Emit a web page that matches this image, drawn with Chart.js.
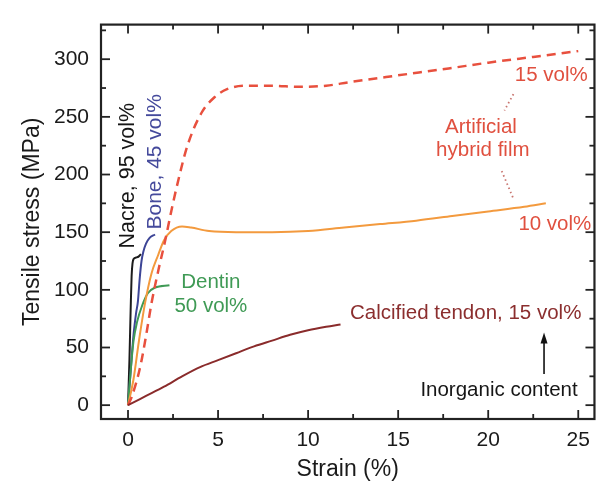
<!DOCTYPE html>
<html><head><meta charset="utf-8">
<script src="https://cdn.jsdelivr.net/npm/chart.js@4"></script>
<style>html,body{margin:0;padding:0;background:#fff}#wrap{width:599px;height:485px}</style>
</head><body><div id="wrap"><canvas id="c"></canvas></div>
<script>
// ---- tick labels ----
const xTicks = [0, 5, 10, 15, 20, 25];
const yTicks = [0, 50, 100, 150, 200, 250, 300];

// ---- series (strain %, stress MPa) ----
const nacreX = [0, 0.08, 0.15, 0.2, 0.25, 0.32, 0.45, 0.6, 0.72];
const nacreY = [0, 40, 85, 112, 123, 127, 128, 129, 131];

const boneX = [0, 0.15, 0.3, 0.45, 0.55, 0.65, 0.75, 0.85, 1.0, 1.2, 1.5];
const boneY = [0, 30, 60, 80, 90, 110, 125, 133, 140, 145, 148];

const dentinX = [0, 0.15, 0.3, 0.5, 0.8, 1.1, 1.5, 2.3];
const dentinY = [0, 30, 55, 72, 87, 97, 102, 104];

const film10X = [0, 0.3, 0.6, 0.94, 1.3, 1.67, 2.0, 2.4, 3.0, 3.5, 4.5, 6, 8, 10, 12, 14, 16, 18, 20, 22, 23.2];
const film10Y = [0, 22, 55, 88, 114, 130, 143, 151, 155, 154, 151, 150, 150, 151, 154, 157, 160, 164, 168, 172, 175];

const film15X = [0, 0.2, 0.66, 1.0, 1.3, 1.7, 2.04, 2.4, 2.7, 3.3, 4.1, 4.8, 5.5, 6.5, 8, 9.5, 11, 12.25, 15, 17.8, 20, 22.5, 25];
const film15Y = [0, 7, 32, 60, 88, 118, 141, 168, 189, 225, 254, 267, 274, 277, 277, 276, 277, 280, 286, 292, 297, 302, 307];

const tendonX = [0, 1, 2, 3, 4, 5, 6, 7, 8, 9, 10, 11, 11.8];
const tendonY = [0, 8, 16, 25, 33, 39, 45, 51, 56, 61, 65, 68, 70];

const pts = (xs, ys) => xs.map((v, i) => ({x: v, y: ys[i]}));
const FONT = "'Liberation Sans', Arial, Helvetica, sans-serif";

function ds(label, xs, ys, color, width, dash) {
  return {label, data: pts(xs, ys), borderColor: color, backgroundColor: color,
    borderWidth: width, borderDash: dash || [], pointRadius: 0, fill: false,
    cubicInterpolationMode: 'monotone'};
}

const annotations = [
  {text: 'Nacre, 95 vol%', x: 0.0, y: 199, color: '#161616', rot: true, size: 21.5},
  {text: 'Bone, 45 vol%', x: 1.5, y: 211, color: '#454a9c', rot: true, size: 21},
  {text: 'Dentin', x: 4.6, y: 106.5, color: '#3f9a55'},
  {text: '50 vol%', x: 4.6, y: 85.5, color: '#3f9a55'},
  {text: 'Calcified tendon, 15 vol%', x: 18.75, y: 79.8, color: '#8b2e2e'},
  {text: 'Inorganic content', x: 20.6, y: 12.6, color: '#161616'},
  {text: '15 vol%', x: 23.5, y: 285.7, color: '#e0503f'},
  {text: 'Artificial', x: 19.6, y: 241, color: '#e0503f'},
  {text: 'hybrid film', x: 19.7, y: 221, color: '#e0503f'},
  {text: '10 vol%', x: 23.7, y: 157, color: '#e0503f'}
];

const frameTicks = {
  id: 'frameTicks',
  afterDraw(chart) {
    const {ctx, chartArea: a, scales: {x, y}} = chart;
    ctx.save();
    const line = (x1, y1, x2, y2) => { ctx.beginPath(); ctx.moveTo(x1, y1); ctx.lineTo(x2, y2); ctx.stroke(); };
    ctx.strokeStyle = '#222';
    ctx.lineWidth = 2.2;
    ctx.strokeRect(a.left, a.top, a.right - a.left, a.bottom - a.top);
    ctx.lineWidth = 1.8;
    const xs = [];
    xTicks.forEach((v, i) => { xs.push([v, 9]); if (i < xTicks.length - 1) xs.push([(v + xTicks[i + 1]) / 2, 5]); });
    xs.forEach(([v, L]) => { const p = x.getPixelForValue(v); line(p, a.bottom, p, a.bottom - L); line(p, a.top, p, a.top + L); });
    const ys = [];
    yTicks.forEach((v) => { ys.push([v, 9]); ys.push([v + 25, 5]); });
    ys.forEach(([v, L]) => { const p = y.getPixelForValue(v); if (p < a.top) return; line(a.left, p, a.left + L, p); line(a.right, p, a.right - L, p); });

    // annotations
    ctx.textBaseline = 'middle';
    ctx.textAlign = 'center';
    annotations.forEach(t => {
      ctx.font = (t.size || 20.5) + 'px ' + FONT;
      ctx.fillStyle = t.color;
      const px = x.getPixelForValue(t.x), py = y.getPixelForValue(t.y);
      if (t.rot) { ctx.save(); ctx.translate(px, py); ctx.rotate(-Math.PI / 2); ctx.fillText(t.text, 0, 0); ctx.restore(); }
      else ctx.fillText(t.text, px, py);
    });

    // dotted leaders
    ctx.strokeStyle = '#c8746e';
    ctx.lineWidth = 1.8;
    ctx.setLineDash([1.5, 3]);
    line(x.getPixelForValue(21.4), y.getPixelForValue(269.7), x.getPixelForValue(20.9), y.getPixelForValue(255.5));
    line(x.getPixelForValue(20.75), y.getPixelForValue(203), x.getPixelForValue(21.4), y.getPixelForValue(179));
    ctx.setLineDash([]);

    // arrow
    ctx.strokeStyle = '#111'; ctx.fillStyle = '#111'; ctx.lineWidth = 1.6;
    const ax = x.getPixelForValue(23.1), ay0 = y.getPixelForValue(27), ay1 = y.getPixelForValue(63);
    line(ax, ay0, ax, ay1 + 8);
    ctx.beginPath(); ctx.moveTo(ax, ay1); ctx.lineTo(ax - 3.5, ay1 + 11); ctx.lineTo(ax + 3.5, ay1 + 11); ctx.closePath(); ctx.fill();
    ctx.restore();
  }
};

new Chart(document.getElementById('c'), {
  type: 'line',
  data: {
    datasets: [
      ds('Calcified tendon', tendonX, tendonY, '#8a2b2b', 2),
      ds('Film 15 vol%', film15X, film15Y, '#e8503e', 2.5, [9, 6]),
      ds('Film 10 vol%', film10X, film10Y, '#f39a3e', 2),
      ds('Dentin', dentinX, dentinY, '#3f9a55', 2),
      ds('Bone', boneX, boneY, '#3d4596', 2),
      ds('Nacre', nacreX, nacreY, '#1c1c1c', 2)
    ]
  },
  options: {
    responsive: true, maintainAspectRatio: false, animation: false,
    layout: {padding: {top: 12, right: 2, left: 0, bottom: 0}},
    plugins: {legend: {display: false}, tooltip: {enabled: false}},
    scales: {
      x: {
        type: 'linear', min: -1.5, max: 25.9,
        afterBuildTicks: s => { s.ticks = xTicks.map(v => ({value: v})); },
        afterFit: s => { s.height = 66; },
        grid: {display: false, drawTicks: false},
        border: {display: false},
        ticks: {padding: 9, color: '#1a1a1a', font: {family: FONT, size: 21}},
        title: {display: true, text: 'Strain (%)', color: '#1a1a1a', font: {family: FONT, size: 23}, padding: {top: 0, bottom: 2}}
      },
      y: {
        type: 'linear', min: -12, max: 330,
        afterBuildTicks: s => { s.ticks = yTicks.map(v => ({value: v})); },
        afterFit: s => { s.width = 101; },
        grid: {display: false, drawTicks: false},
        border: {display: false},
        ticks: {padding: 12, color: '#1a1a1a', font: {family: FONT, size: 21}},
        title: {display: true, text: 'Tensile stress (MPa)', color: '#1a1a1a', font: {family: FONT, size: 23}, padding: {top: 19, bottom: 0}}
      }
    }
  },
  plugins: [frameTicks]
});
</script></body></html>
